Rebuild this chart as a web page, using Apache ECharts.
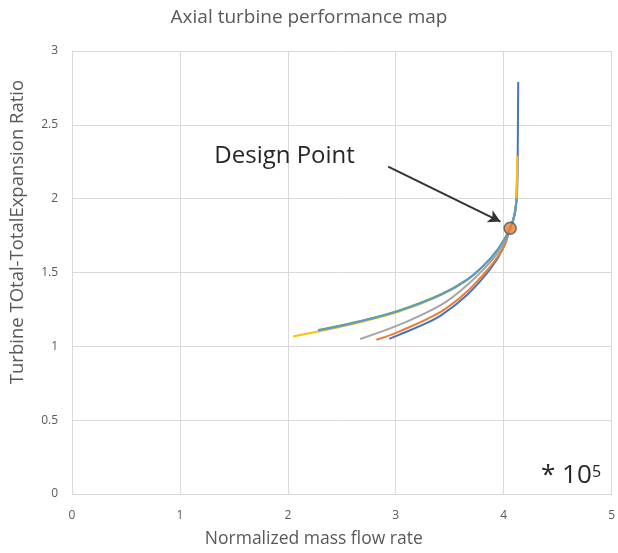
<!DOCTYPE html>
<html>
<head>
<meta charset="utf-8">
<script src="https://cdn.jsdelivr.net/npm/echarts@6/dist/echarts.min.js"></script>
<style>html,body{margin:0;padding:0;background:#fff;}#c{width:618px;height:553px;}</style>
</head>
<body>
<div id="c"></div>
<script>
// Normalized mass flow rate (x 10^5) and expansion ratio for each curve
const s1X = [2.94, 3.03, 3.20, 3.42, 3.66, 3.88, 4.00, 4.06, 4.09, 4.11, 4.125, 4.13, 4.135];
const s1Y = [1.05, 1.078, 1.13, 1.21, 1.347, 1.527, 1.67, 1.80, 1.86, 1.93, 2.05, 2.30, 2.79];
const s2X = [2.82, 3.03, 3.42, 3.66, 3.86, 3.99, 4.06, 4.09, 4.11, 4.12, 4.125];
const s2Y = [1.045, 1.10, 1.235, 1.37, 1.527, 1.66, 1.80, 1.86, 1.93, 2.05, 2.20];
const s3X = [2.67, 3.03, 3.42, 3.66, 3.85, 3.97, 4.06, 4.09, 4.11, 4.12, 4.125];
const s3Y = [1.05, 1.145, 1.28, 1.414, 1.55, 1.66, 1.80, 1.86, 1.93, 2.05, 2.15];
const s4X = [2.05, 2.28, 2.65, 3.03, 3.42, 3.66, 3.82, 3.94, 4.02, 4.06, 4.09, 4.11, 4.12, 4.125];
const s4Y = [1.067, 1.10, 1.16, 1.235, 1.347, 1.448, 1.55, 1.65, 1.74, 1.80, 1.86, 1.93, 2.05, 2.29];
const s5X = [2.28, 2.65, 3.03, 3.42, 3.66, 3.82, 3.94, 4.02, 4.06, 4.09, 4.11, 4.12];
const s5Y = [1.107, 1.165, 1.24, 1.35, 1.45, 1.55, 1.65, 1.74, 1.80, 1.86, 1.93, 2.00];
const s6X = [2.28, 2.65, 3.03, 3.42, 3.66, 3.82, 3.94, 4.02, 4.06, 4.09, 4.11, 4.12];
const s6Y = [1.11, 1.168, 1.243, 1.353, 1.452, 1.552, 1.652, 1.742, 1.80, 1.86, 1.93, 2.00];
const designPoint = [4.06, 1.80];
const arrowFrom = [2.93, 2.217];
const arrowTo = [3.97, 1.845];
const labelPos = [1.97, 2.29];

const colors = ['#4472C4', '#ED7D31', '#A5A5A5', '#FFC000', '#5B9BD5', '#70AD47'];
const zOrder = [2, 3, 4, 5, 7, 6];
const seriesX = [s1X, s2X, s3X, s4X, s5X, s6X];
const seriesY = [s1Y, s2Y, s3Y, s4Y, s5Y, s6Y];

const font = 'Open Sans';
const lineSeries = seriesX.map((xs, i) => ({
  type: 'line',
  data: xs.map((x, j) => [x, seriesY[i][j]]),
  smooth: 0.4,
  symbol: 'none',
  lineStyle: { color: colors[i], width: 2 },
  z: zOrder[i]
}));

const chart = echarts.init(document.getElementById('c'), null, { renderer: 'canvas' });
chart.setOption({
  animation: false,
  backgroundColor: '#fff',
  title: {
    text: 'Axial turbine performance map',
    left: 'center',
    top: 3,
    textStyle: { fontFamily: font, fontSize: 19, fontWeight: 'normal', color: '#595959' }
  },
  grid: { left: 72, right: 3, top: 51, bottom: 56 },
  xAxis: {
    type: 'value', min: 0, max: 5, interval: 1,
    name: 'Normalized mass flow rate',
    nameLocation: 'middle', nameGap: 36,
    nameTextStyle: { fontFamily: font, fontSize: 17.5, color: '#595959', padding: [0, 56, 0, 0] },
    axisLine: { show: true, lineStyle: { color: '#D9D9D9' } },
    axisTick: { show: false },
    axisLabel: { fontFamily: font, fontSize: 12, color: '#595959', margin: 16 },
    splitLine: { show: true, lineStyle: { color: '#D9D9D9', width: 1 } }
  },
  yAxis: {
    type: 'value', min: 0, max: 3, interval: 0.5,
    name: 'Turbine TOtal-TotalExpansion Ratio',
    nameLocation: 'middle', nameGap: 45,
    nameTextStyle: { fontFamily: font, fontSize: 18.5, color: '#595959', padding: [0, 0, 0, 81] },
    axisLine: { show: true, lineStyle: { color: '#D9D9D9' } },
    axisTick: { show: false },
    axisLabel: { fontFamily: font, fontSize: 12, color: '#595959', margin: 14 },
    splitLine: { show: true, lineStyle: { color: '#D9D9D9', width: 1 } }
  },
  series: lineSeries.concat([{
    type: 'scatter',
    data: [designPoint],
    symbolSize: 12,
    itemStyle: { color: '#ED7D31', borderColor: '#44546A', borderWidth: 1.5 },
    z: 20,
    markLine: {
      silent: true,
      symbol: ['none', 'arrow'],
      symbolSize: [10, 12],
      label: { show: false },
      lineStyle: { color: '#333333', width: 2, type: 'solid' },
      data: [[{ coord: arrowFrom }, { coord: arrowTo }]]
    },
    markPoint: {
      silent: true,
      symbol: 'rect',
      symbolSize: 1,
      itemStyle: { color: 'rgba(0,0,0,0)' },
      label: {
        show: true, position: 'inside',
        formatter: 'Design Point',
        fontFamily: font, fontSize: 24, color: '#262626'
      },
      data: [{ coord: labelPos }]
    }
  }]),
  graphic: [{
    type: 'text',
    left: 541,
    top: 463,
    style: { text: '* 10', fontFamily: font, fontSize: 26, fill: '#262626' }
  }, {
    type: 'text',
    left: 592,
    top: 464,
    style: { text: '5', fontFamily: font, fontSize: 16, fill: '#262626' }
  }]
});
</script>
</body>
</html>
